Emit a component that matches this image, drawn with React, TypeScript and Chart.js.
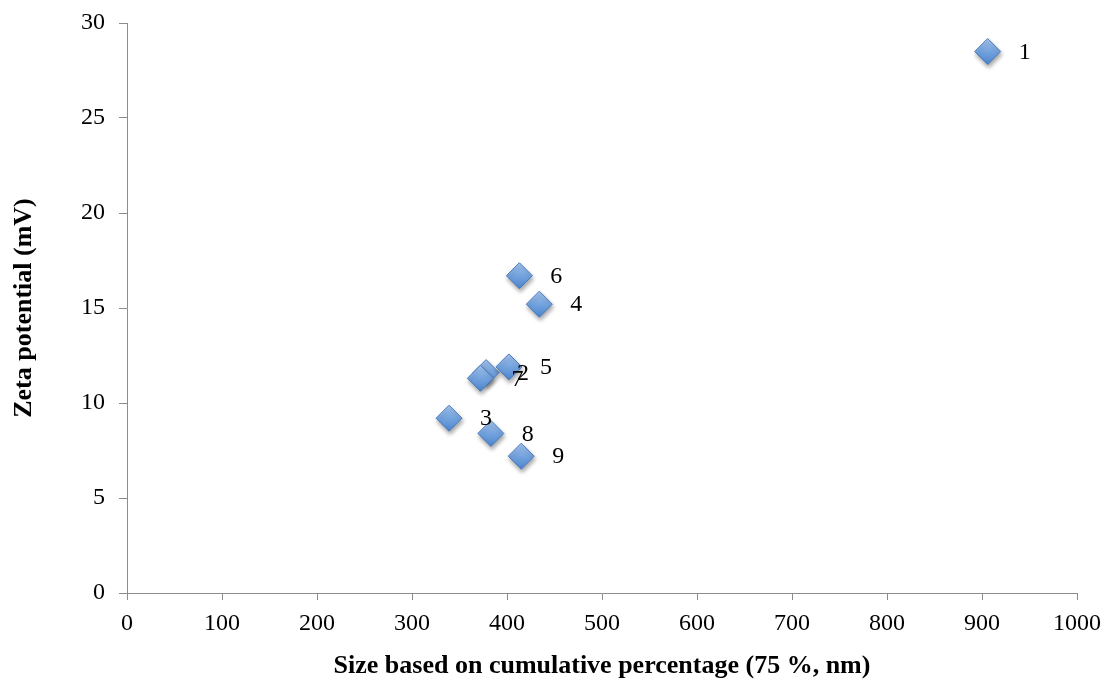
import React, { useEffect, useRef } from 'react';
import { Chart, registerables } from 'chart.js';

Chart.register(...registerables);

// Sample numbers shown next to each point
const pointLabels: string[] = ['1', '2', '3', '4', '5', '6', '7', '8', '9'];
// Size based on cumulative percentage (75 %, nm)
const sizeValues: number[] = [906, 378, 339, 434, 402, 413, 372, 383, 415];
// Zeta potential (mV)
const zetaValues: number[] = [28.5, 11.6, 9.2, 15.2, 11.9, 16.7, 11.3, 8.4, 7.2];

const xMin = 0;
const xMax = 1000;
const xStep = 100;
const yMin = 0;
const yMax = 30;
const yStep = 5;

const xTitle = 'Size based on cumulative percentage (75 %, nm)';
const yTitle = 'Zeta potential (mV)';

const SERIF = "'Liberation Serif', 'Times New Roman', Times, serif";
const AXIS_GREY = '#8c8c8c';
const MARKER_R = 13;

const labelPlugin = {
  id: 'pointNumberLabels',
  afterDatasetsDraw(chart: any) {
    const meta = chart.getDatasetMeta(0);
    const ctx = chart.ctx;
    ctx.save();
    ctx.fillStyle = '#000';
    ctx.font = `24px ${SERIF}`;
    ctx.textAlign = 'center';
    ctx.textBaseline = 'middle';
    meta.data.forEach((pt: any, i: number) => {
      ctx.fillText(pointLabels[i], pt.x + 37, pt.y + 1);
    });
    ctx.restore();
  },
};

const shadowPlugin = {
  id: 'markerShadow',
  beforeDatasetDraw(chart: any) {
    const ctx = chart.ctx;
    ctx.save();
    ctx.shadowColor = 'rgba(0,0,0,0.35)';
    ctx.shadowBlur = 4;
    ctx.shadowOffsetX = 1;
    ctx.shadowOffsetY = 3;
  },
  afterDatasetDraw(chart: any) {
    chart.ctx.restore();
  },
};

export default function App() {
  const canvasRef = useRef<HTMLCanvasElement | null>(null);

  useEffect(() => {
    const canvas = canvasRef.current;
    if (!canvas) return;

    const points = sizeValues.map((x, i) => ({ x, y: zetaValues[i] }));

    const chart = new Chart(canvas, {
      type: 'scatter',
      data: {
        datasets: [
          {
            label: 'Samples',
            data: points,
            pointStyle: 'rectRot',
            pointRadius: MARKER_R,
            pointHoverRadius: MARKER_R,
            borderWidth: 1,
            borderColor: '#4a7cbd',
            backgroundColor: (c: any) => {
              const ch = c.chart;
              if (c.type !== 'data' || !ch.scales || !ch.scales.x || !ch.scales.y) return '#6f9fdc';
              const px = ch.scales.x.getPixelForValue(sizeValues[c.dataIndex]);
              const py = ch.scales.y.getPixelForValue(zetaValues[c.dataIndex]);
              if (!isFinite(px) || !isFinite(py)) return '#6f9fdc';
              const g = ch.ctx.createLinearGradient(px, py - MARKER_R, px, py + MARKER_R);
              g.addColorStop(0, '#a6c6f0');
              g.addColorStop(0.5, '#74a4df');
              g.addColorStop(1, '#4d85ce');
              return g;
            },
            clip: false as any,
          },
        ],
      },
      options: {
        responsive: false,
        animation: false,
        events: [],
        layout: { padding: { top: 23, right: 30, left: 0, bottom: 0 } },
        plugins: {
          legend: { display: false },
          tooltip: { enabled: false },
        },
        scales: {
          x: {
            type: 'linear',
            min: xMin,
            max: xMax,
            afterFit: (s: any) => {
              s.height = 88;
              s.paddingLeft = 0;
              s.paddingRight = 0;
            },
            ticks: {
              stepSize: xStep,
              color: '#000',
              padding: 9,
              maxRotation: 0,
              font: { family: SERIF, size: 24 },
              callback: (v: any) => String(v),
            },
            grid: {
              display: true,
              drawOnChartArea: false,
              drawTicks: true,
              tickLength: 7,
              color: AXIS_GREY,
              lineWidth: 1,
            },
            border: { display: true, color: AXIS_GREY, width: 1 },
            title: {
              display: true,
              text: xTitle,
              color: '#000',
              padding: { top: 0, bottom: 0 },
              font: { family: SERIF, size: 26, weight: 'bold', lineHeight: 1.1 },
            },
          },
          y: {
            type: 'linear',
            min: yMin,
            max: yMax,
            afterFit: (s: any) => {
              s.width = 127;
              s.paddingTop = 0;
              s.paddingBottom = 0;
            },
            ticks: {
              stepSize: yStep,
              color: '#000',
              padding: 14,
              font: { family: SERIF, size: 24 },
              callback: (v: any) => String(v),
            },
            grid: {
              display: true,
              drawOnChartArea: false,
              drawTicks: true,
              tickLength: 8,
              color: AXIS_GREY,
              lineWidth: 1,
            },
            border: { display: true, color: AXIS_GREY, width: 1 },
            title: {
              display: true,
              text: yTitle,
              color: '#000',
              padding: { top: 10, bottom: 0 },
              font: { family: SERIF, size: 26, weight: 'bold', lineHeight: 1.1 },
            },
          },
        },
      },
      plugins: [shadowPlugin, labelPlugin],
    } as any);

    return () => {
      chart.destroy();
    };
  }, []);

  return (
    <div style={{ position: 'absolute', left: 0, top: 0, width: 1107, height: 681, background: '#fff' }}>
      <canvas ref={canvasRef} width={1107} height={681} style={{ display: 'block' }} />
    </div>
  );
}
